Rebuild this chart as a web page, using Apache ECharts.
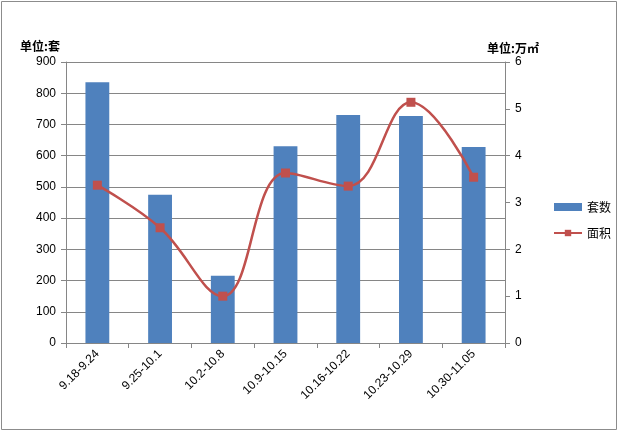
<!DOCTYPE html>
<html><head><meta charset="utf-8">
<script src="https://cdn.jsdelivr.net/npm/echarts@6/dist/echarts.min.js"></script>
<style>html,body{margin:0;padding:0;background:#fff}#c{width:619px;height:432px}</style>
</head><body><div id="c"></div>
<script>
var categories = ['9.18-9.24','9.25-10.1','10.2-10.8','10.9-10.15','10.16-10.22','10.23-10.29','10.30-11.05'];
var setsValues = [835, 475, 215, 630, 730, 727, 628];
var areaValues = [3.37, 2.46, 1.0, 3.63, 3.35, 5.14, 3.54];
var leftTicks = [0,100,200,300,400,500,600,700,800,900];
var rightTicks = [0,1,2,3,4,5,6];

var chart = echarts.init(document.getElementById('c'));
var font = '"Microsoft YaHei","Noto Sans CJK SC",sans-serif';
var axisColor = '#868686';
var numFont = 'Arial, "Liberation Sans", sans-serif';
chart.setOption({
  animation:false,
  textStyle:{fontFamily:font},
  graphic:[{type:'rect',shape:{x:1.5,y:1.5,width:615,height:428},style:{fill:'none',stroke:'#8c8c8c',lineWidth:1}}],
  grid:{left:66,right:114,top:62,bottom:89},
  legend:{orient:'vertical',left:548,top:196,itemGap:14,itemWidth:28,itemHeight:8,
    textStyle:{fontSize:12,color:'#000',fontFamily:font},
    data:[{name:'套数',icon:'rect'},{name:'面积'}]},
  xAxis:{type:'category',data:categories,boundaryGap:true,
    axisLine:{lineStyle:{color:axisColor}},
    axisTick:{show:true,alignWithLabel:false,length:5,lineStyle:{color:axisColor}},
    axisLabel:{rotate:45,color:'#000',fontSize:12,margin:9,interval:0,fontFamily:numFont}},
  yAxis:[{type:'value',min:0,max:900,interval:100,name:'单位:套',nameGap:10,
      nameTextStyle:{color:'#000',fontSize:12,fontWeight:'bold',align:'right',padding:[0,6,0,0]},
      axisLine:{show:true,lineStyle:{color:axisColor}},
      axisTick:{show:true,length:5,lineStyle:{color:axisColor}},
      splitLine:{lineStyle:{color:axisColor}},
      axisLabel:{color:'#000',fontSize:12,margin:10,fontFamily:numFont}},
    {type:'value',min:0,max:6,interval:1,name:'单位:万㎡',nameGap:8,
      nameTextStyle:{color:'#000',fontSize:12,fontWeight:'bold',align:'left',padding:[0,0,0,-18]},
      axisLine:{show:true,lineStyle:{color:axisColor}},
      axisTick:{show:true,length:5,lineStyle:{color:axisColor}},
      splitLine:{show:false},
      axisLabel:{color:'#000',fontSize:12,margin:10,fontFamily:numFont}}],
  series:[
    {name:'套数',type:'bar',data:setsValues,barWidth:'38%',itemStyle:{color:'#4f81bd'},yAxisIndex:0},
    {name:'面积',type:'line',data:areaValues,yAxisIndex:1,smooth:0.4,symbol:'rect',symbolSize:9,
      lineStyle:{color:'#c0504d',width:2.5},itemStyle:{color:'#c0504d'}}
  ]
});
</script></body></html>
